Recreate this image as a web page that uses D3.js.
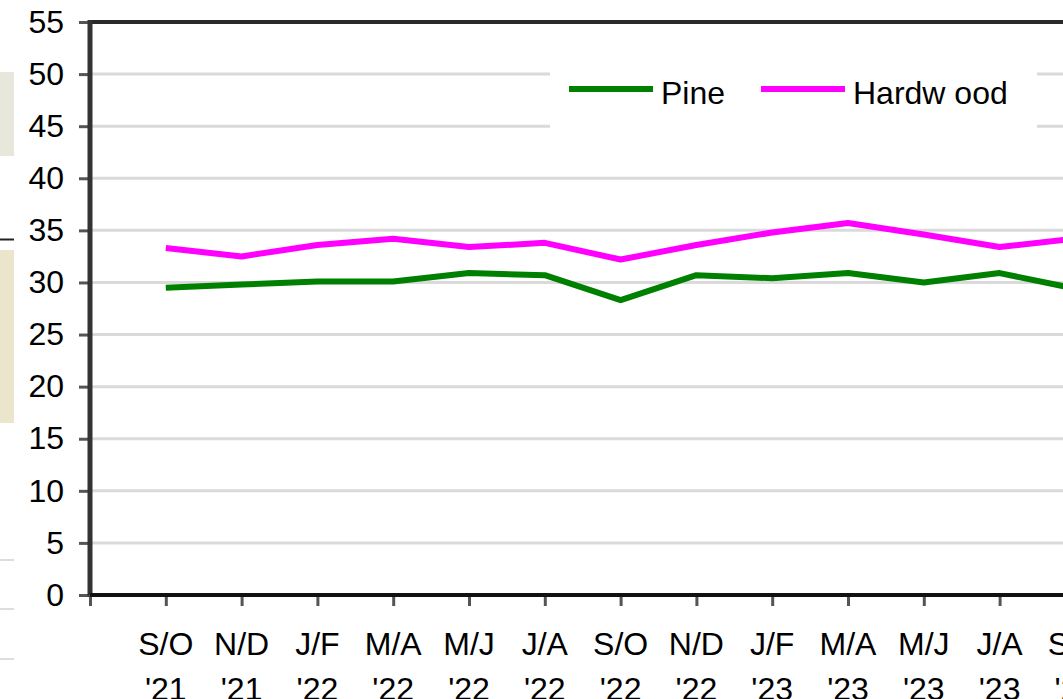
<!doctype html>
<html>
<head>
    <title>Pine and Hardwood</title>
    <script src="https://d3js.org/d3.v7.min.js"></script>
    <style>
        body { margin: 0; background: #fff; }
        svg text { font-family: "Liberation Sans", Arial, sans-serif; fill: #000; }
    </style>
</head>
<body>
    <div id="chart"></div>

    <script>
        // data
        var months = ["S/O", "N/D", "J/F", "M/A", "M/J", "J/A", "S/O", "N/D", "J/F", "M/A", "M/J", "J/A", "S/O"];
        var years = ["'21", "'21", "'22", "'22", "'22", "'22", "'22", "'22", "'23", "'23", "'23", "'23", "'23"];
        var pine = [29.5, 29.8, 30.1, 30.1, 30.9, 30.7, 28.3, 30.7, 30.4, 30.9, 30.0, 30.9, 29.4];
        var hardwood = [33.3, 32.5, 33.6, 34.2, 33.4, 33.8, 32.2, 33.6, 34.8, 35.7, 34.6, 33.4, 34.2];
        var yTicks = [0, 5, 10, 15, 20, 25, 30, 35, 40, 45, 50, 55];

        const chartWidth = 1063;
        const chartHeight = 699;
        const plotLeft = 90;
        const plotTop = 22;
        const plotBottom = 595;
        const step = 75.8;
        const plotRight = plotLeft + step * (months.length + 1);

        var svg = d3.select("#chart")
            .append("svg")
            .attr("width", chartWidth)
            .attr("height", chartHeight);

        // bits of the page cut off on the left
        svg.append("rect").attr("x", 0).attr("y", 72).attr("width", 14).attr("height", 84).attr("fill", "#e8e7dc");
        svg.append("rect").attr("x", 0).attr("y", 250).attr("width", 14).attr("height", 173).attr("fill", "#ebe5cb");
        svg.append("line").attr("x1", 0).attr("x2", 14).attr("y1", 239.5).attr("y2", 239.5).attr("stroke", "#222").attr("stroke-width", 2);
        [560, 609, 659].forEach(function(yy) {
            svg.append("line").attr("x1", 0).attr("x2", 14).attr("y1", yy).attr("y2", yy).attr("stroke", "#ddd").attr("stroke-width", 2);
        });

        // scales (position 0 is the axis origin, data starts at 1)
        var x = d3.scaleLinear().domain([0, months.length + 1]).range([plotLeft, plotRight]);
        var y = d3.scaleLinear().domain([0, 55]).range([plotBottom, plotTop]);

        // gridlines
        svg.selectAll(".grid")
            .data(yTicks.filter(function(d) { return d > 0 && d < 55; }))
            .enter()
            .append("line")
                .attr("class", "grid")
                .attr("x1", plotLeft).attr("x2", plotRight)
                .attr("y1", function(d) { return y(d); })
                .attr("y2", function(d) { return y(d); })
                .attr("stroke", "#dadada")
                .attr("stroke-width", 3);

        // legend box hides the gridlines behind it
        svg.append("rect").attr("x", 550).attr("y", 60).attr("width", 487).attr("height", 80).attr("fill", "#fff");

        // top border
        svg.append("line").attr("x1", plotLeft).attr("x2", plotRight).attr("y1", y(55)).attr("y2", y(55))
            .attr("stroke", "#2a2a2a").attr("stroke-width", 4);

        // y axis
        var yAxis = svg.append("g")
            .attr("transform", "translate(" + plotLeft + ",0)")
            .call(d3.axisLeft(y).tickValues(yTicks).tickSize(11).tickPadding(15));
        yAxis.select(".domain").remove();
        yAxis.selectAll(".tick line").attr("stroke", "#555").attr("stroke-width", 3);
        yAxis.selectAll(".tick text").attr("font-size", 32).attr("fill", "#000")
            .style("font-family", "Liberation Sans, Arial, sans-serif");
        svg.append("line").attr("x1", plotLeft).attr("x2", plotLeft).attr("y1", plotTop - 2).attr("y2", plotBottom + 2)
            .attr("stroke", "#333").attr("stroke-width", 5);

        // x axis
        var xAxis = svg.append("g")
            .attr("transform", "translate(0," + plotBottom + ")")
            .call(d3.axisBottom(x).tickValues(d3.range(0, months.length + 1)).tickSize(11).tickFormat(""));
        xAxis.select(".domain").remove();
        xAxis.selectAll(".tick line").attr("stroke", "#555").attr("stroke-width", 3);
        svg.append("line").attr("x1", plotLeft).attr("x2", plotRight).attr("y1", plotBottom).attr("y2", plotBottom)
            .attr("stroke", "#111").attr("stroke-width", 4);

        var labels = svg.append("g").selectAll("text")
            .data(months)
            .enter()
            .append("text")
                .attr("text-anchor", "middle")
                .attr("font-size", 32);
        labels.append("tspan")
            .attr("x", function(d, i) { return x(i + 1); })
            .attr("y", 655)
            .text(function(d) { return d; });
        labels.append("tspan")
            .attr("x", function(d, i) { return x(i + 1); })
            .attr("y", 700)
            .text(function(d, i) { return years[i]; });

        // lines
        var line = d3.line()
            .x(function(d, i) { return x(i + 1); })
            .y(function(d) { return y(d); });

        svg.append("path").datum(pine)
            .attr("d", line).attr("fill", "none")
            .attr("stroke", "#008000").attr("stroke-width", 6).attr("stroke-linejoin", "round");
        svg.append("path").datum(hardwood)
            .attr("d", line).attr("fill", "none")
            .attr("stroke", "#ff00ff").attr("stroke-width", 6).attr("stroke-linejoin", "round");

        // legend
        var legend = [{name: "Pine", color: "#008000", x: 569}, {name: "Hardw ood", color: "#ff00ff", x: 761}];
        legend.forEach(function(d) {
            svg.append("line").attr("x1", d.x).attr("x2", d.x + 84).attr("y1", 89).attr("y2", 89)
                .attr("stroke", d.color).attr("stroke-width", 6);
            svg.append("text").attr("x", d.x + 92).attr("y", 104)
                .attr("font-size", 32)
                .text(d.name);
        });
    </script>
</body>
</html>
